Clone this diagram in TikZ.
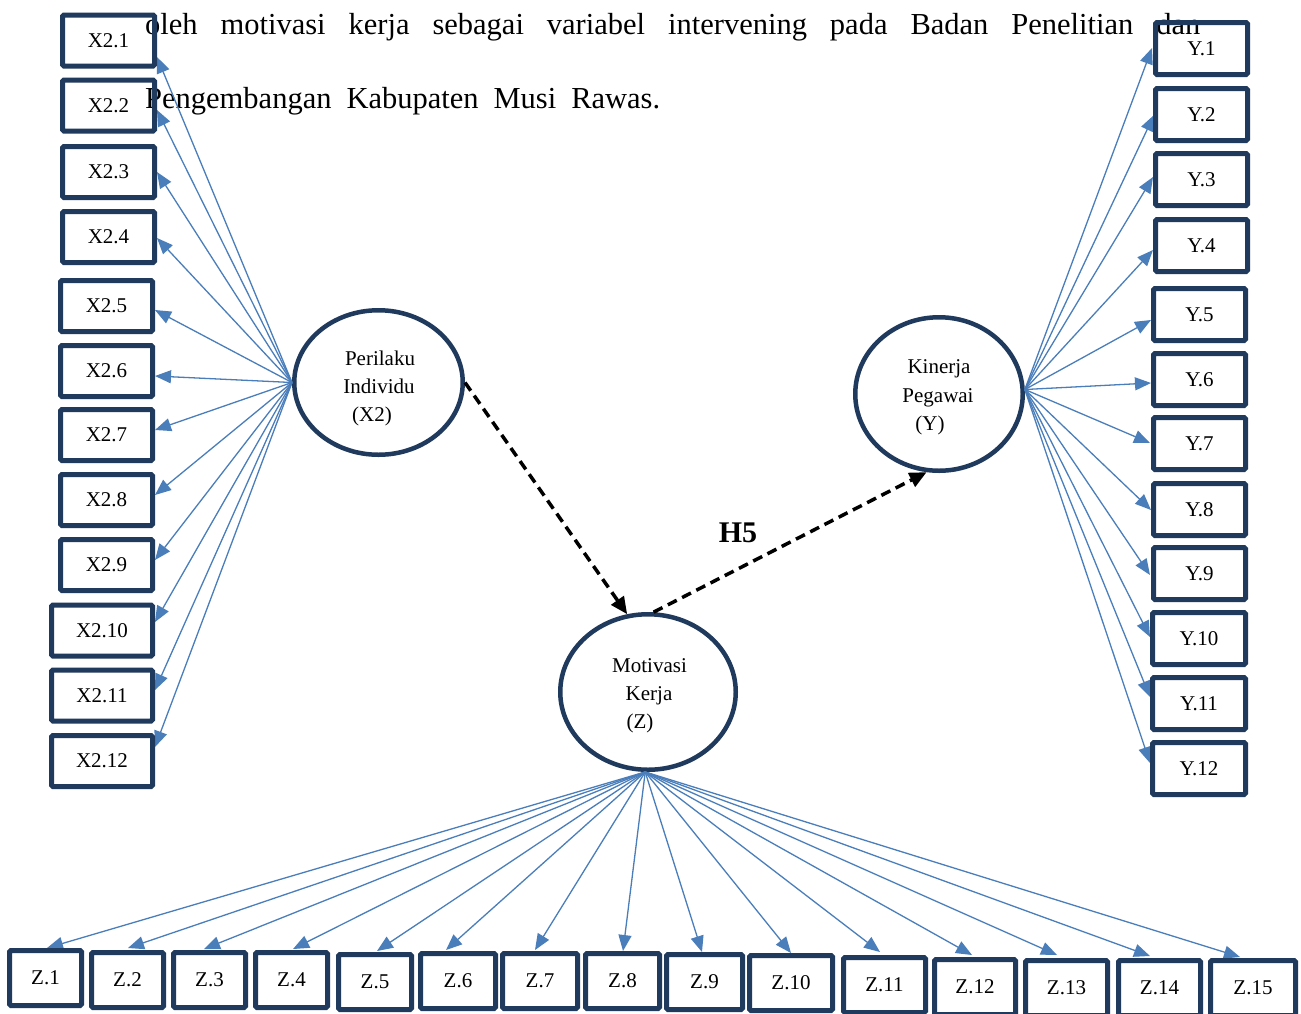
\documentclass[tikz,border=0pt]{standalone}
\usepackage{fontspec}
\setmainfont{Liberation Serif}
\usetikzlibrary{arrows.meta,shapes.geometric}
\definecolor{navy}{HTML}{1F3A5C}
\definecolor{linkblue}{HTML}{4A7EBB}
\begin{document}
\begin{tikzpicture}[x=1pt,y=-1pt,
  ibox/.style={draw=navy,line width=5pt,rounded corners=1.5pt,inner sep=0pt,
    font=\fontsize{21}{21}\selectfont},
  latent/.style={ellipse,draw=navy,line width=4.5pt,inner sep=0pt},
  ltext/.style={font=\fontsize{21}{21}\selectfont,inner sep=0pt,anchor=base},
  body/.style={font=\fontsize{30.5}{30.5}\selectfont,inner sep=0pt,anchor=base west},
  load/.style={draw=linkblue,line width=1.3pt,-{Triangle[length=16pt,width=13pt]}},
  hyp/.style={draw=black,line width=3.5pt,dash pattern=on 10pt off 6pt,
    -{Triangle[length=17pt,width=15pt]}},
]
\useasboundingbox[fill=white] (0,0) rectangle (1301,1013);

% running text of the page
\node[body] (t1) at (145,34) {\makebox[1055pt][s]{oleh motivasi kerja sebagai variabel intervening pada Badan Penelitian dan}};
\node[body] (t2) at (145,108) {\makebox[515pt][s]{Pengembangan Kabupaten Musi Rawas.}};

% latent variables
\node[latent,minimum width=168.5pt,minimum height=144.5pt] (px) at (378.5,382.5) {};
\node[latent,minimum width=167.5pt,minimum height=153.5pt] (ky) at (939,394) {};
\node[latent,minimum width=175.5pt,minimum height=155.5pt] (mz) at (648,692) {};

\node[ltext] (px1) at (380,365) {Perilaku};
\node[ltext] (px2) at (379,393) {Individu};
\node[ltext] (px3) at (372,421) {(X2)};
\node[ltext] (ky1) at (939,373) {Kinerja};
\node[ltext] (ky2) at (938,402) {Pegawai};
\node[ltext] (ky3) at (930,430) {(Y)};
\node[ltext] (mz1) at (649.5,672) {Motivasi};
\node[ltext] (mz2) at (649,700) {Kerja};
\node[ltext] (mz3) at (640,728) {(Z)};

% indicators of X2
\foreach \n/\cx/\cy/\w/\tx/\ty in {
  1/108.5/40.5/97/157/57, 2/108.5/105.5/97/157/110, 3/108.5/172/97/157/172,
  4/108.5/237/97/157/238, 5/106.5/306/97/155/310, 6/106.5/371/97/155/376,
  7/106.5/435/97/155/430, 8/106.5/500/97/155/495, 9/106.5/565/97/155/560,
  10/102/630.5/106/155/622, 11/102/695.5/106/155/690, 12/102/761/106/155/747}{
  \coordinate (xt\n) at (\tx,\ty);
  \draw[load] (px.west) -- (xt\n);
  \node[ibox,minimum width={\w-5},minimum height=51pt] (x\n) at (\cx,\cy) {X2.\n};
}

% indicators of Y
\foreach \n/\cx/\cy/\w/\tx/\ty in {
  1/1201.5/48.5/97/1152/48, 2/1201.5/114.5/97/1154/115, 3/1201.5/179.5/97/1153/177,
  4/1201.5/245.5/97/1153/250, 5/1199.5/314.5/97/1151/320, 6/1199.5/379.5/97/1151/383,
  7/1199.5/443.5/97/1150/443, 8/1199.5/509.5/97/1151/510, 9/1199.5/573.5/97/1150/575,
  10/1199/638.5/98/1150/637, 11/1199/703.5/98/1150/697, 12/1199/768.5/98/1150/763}{
  \coordinate (yt\n) at (\tx,\ty);
  \draw[load] (ky.3) -- (yt\n);
  \node[ibox,minimum width={\w-5},minimum height=52pt] (y\n) at (\cx,\cy) {Y.\n};
}

% indicators of Z
\foreach \n/\cx/\cy/\w/\tx/\ty in {
  1/45.5/978/77/47/948, 2/127.5/980/77/128/948, 3/209.5/980/77/204/949,
  4/291.5/980/77/293/949, 5/375/982/78/377/951, 6/458/981/80/446/950,
  7/540/981/80/535/950, 8/622.5/981/79/623/951, 9/704.5/982/81/702/952,
  10/791/983/88/791/953, 11/884.5/985/87/880/952, 12/975/987/86/972/955,
  13/1066.5/988/87/1057/955, 14/1159.5/988/87/1150/956, 15/1253/988/90/1240/957}{
  \coordinate (zt\n) at (\tx,\ty);
  \draw[load] (mz.268) -- (zt\n);
  \node[ibox,minimum width={\w-5},minimum height=55pt] (z\n) at (\cx,\cy) {Z.\n};
}

% structural paths
\draw[hyp] (px.east) -- (mz.105);
\draw[hyp] (mz.86) -- (ky.261);
\node[font=\bfseries\fontsize{30}{30}\selectfont,inner sep=0pt] (h5) at (738,533) {H5};
\end{tikzpicture}
\end{document}
